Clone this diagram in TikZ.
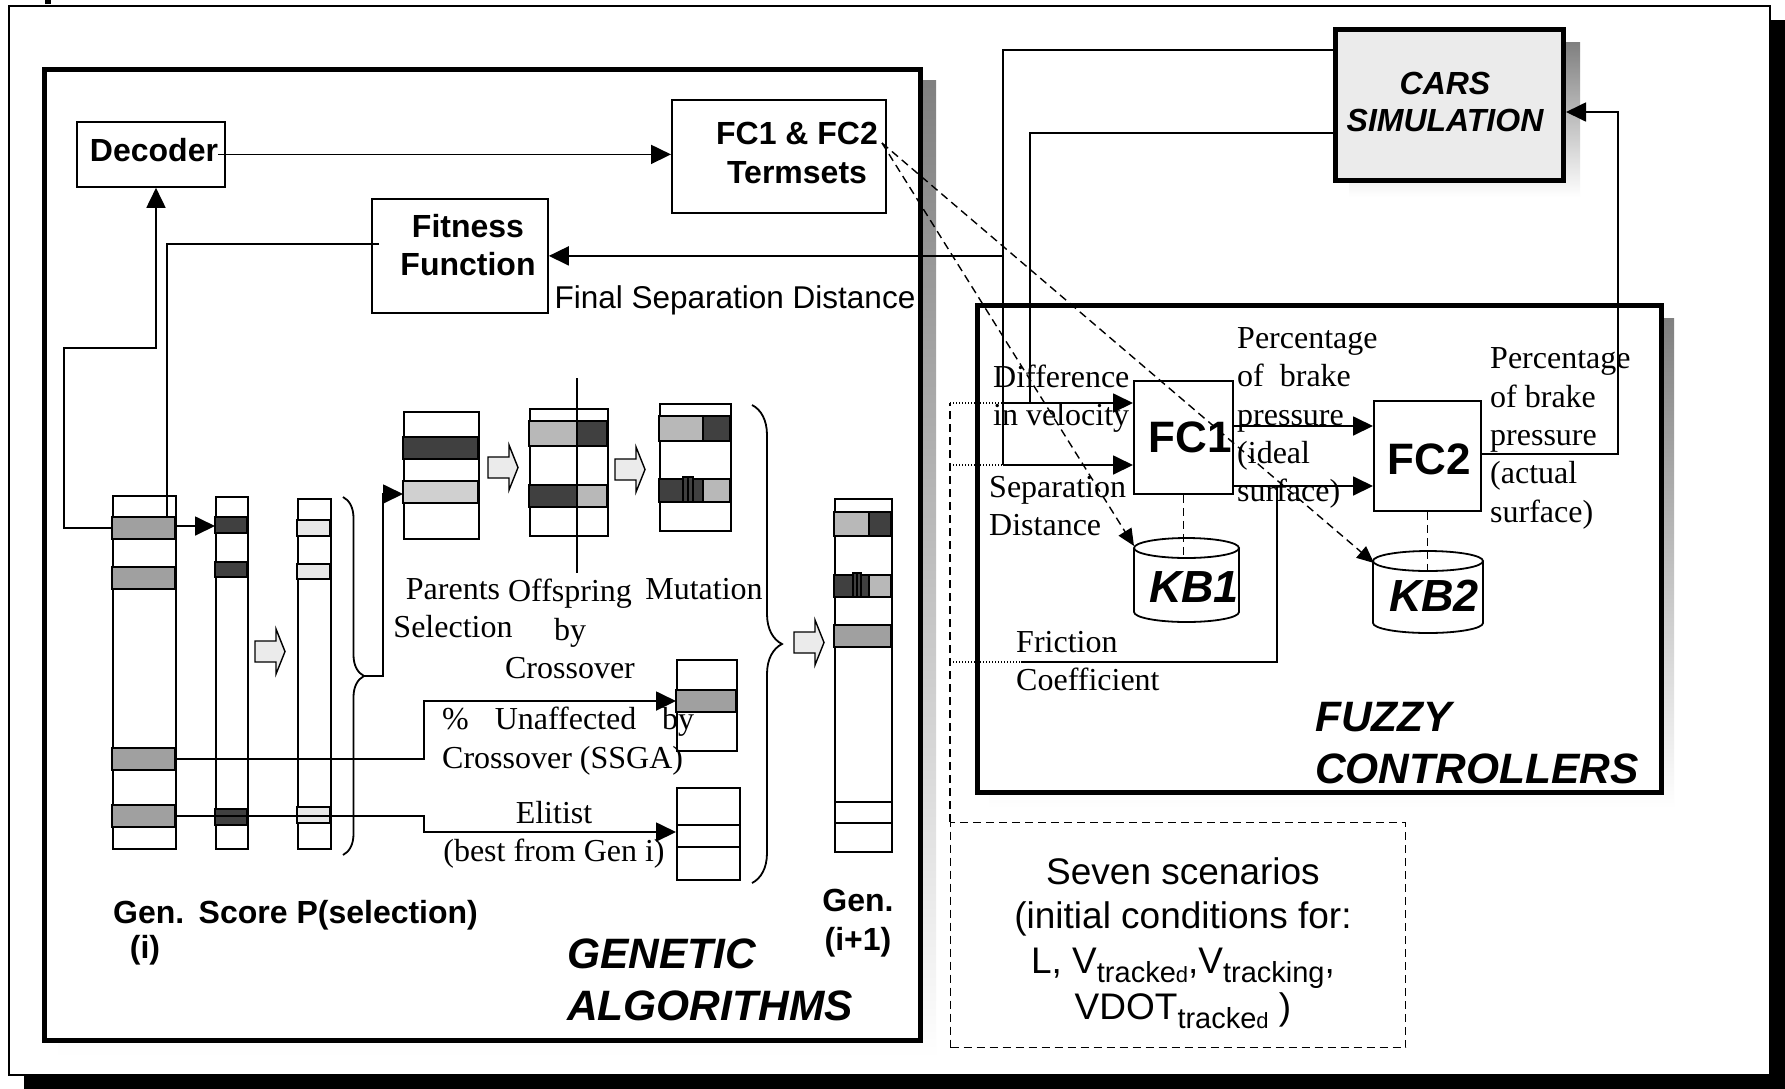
\documentclass[tikz,border=0pt]{standalone}
\usepackage{fontspec}
\setmainfont{Liberation Serif}
\setsansfont{Liberation Sans}
\usepackage{tikz}
\usetikzlibrary{arrows.meta,decorations.pathreplacing}

\definecolor{shade}{HTML}{808080}
\definecolor{simfill}{HTML}{EBEBEB}
\definecolor{genegray}{HTML}{A0A0A0}
\definecolor{genedark}{HTML}{404040}
\definecolor{genelight}{HTML}{B8B8B8}
\definecolor{genepale}{HTML}{D0D0D0}
\definecolor{genefaint}{HTML}{E8E8E8}

\newcommand{\lowtxt}[1]{\raisebox{-9pt}{\fontsize{29}{29}\selectfont #1}}
\newcommand{\tinyd}{{\fontsize{22}{22}\selectfont d}}

\begin{document}
\begin{tikzpicture}[x=1pt,y=-1pt,
  conn/.style={line width=1.8pt},
  arr/.style={-{Triangle[length=20pt,width=19pt]}},
  dashline/.style={line width=1.4pt,dash pattern=on 8pt off 5pt},
  dotline/.style={line width=1.2pt,dash pattern=on 1.2pt off 1.8pt},
  dasharr/.style={dashline,-{Triangle[length=17pt,width=15pt]}},
  box/.style={draw,line width=1.8pt,inner sep=0pt,anchor=north west,fill=white},
  bigframe/.style={draw,line width=5pt,inner sep=0pt,anchor=north west,fill=white},
  gene/.style={draw,line width=1.8pt},
  fatarrow/.style={draw,line width=1.4pt,fill=simfill},
  bf/.style={font=\sffamily\bfseries\fontsize{32}{38}\selectfont,align=center,inner sep=0pt},
  title/.style={font=\sffamily\bfseries\itshape\fontsize{42.5}{52}\selectfont,align=left,inner sep=0pt,anchor=west},
  note/.style={font=\fontsize{32}{38.3}\selectfont,align=left,inner sep=0pt,anchor=west}]

\useasboundingbox (0,0) rectangle (1785,1088);
% outer frame with its black shadow
\fill (24,20) rectangle (1800,1100);
\node[draw,line width=2pt,fill=white,inner sep=0pt,anchor=north west,
  minimum width=1761pt,minimum height=1069pt] (page) at (8,5) {};
\fill (45,0) rectangle (51,4);

% shadows and the three big blocks
\fill[shade] (58,80) rectangle (936,1058);
\fill[shade] (989,318) rectangle (1674,808);
\fill[shade] (1349,42) rectangle (1580,197);
\node[bigframe,minimum width=876pt,minimum height=971pt] (ga) at (42,67) {};
\node[bigframe,minimum width=684pt,minimum height=487pt] (fz) at (975,303) {};
\node[bigframe,fill=simfill,minimum width=228pt,minimum height=151pt] (cars) at (1333,27) {};

% plain boxes
\node[box,minimum width=148pt,minimum height=65pt] (decoder) at (76,121) {};
\node[box,minimum width=214pt,minimum height=113pt] (termsets) at (671,99) {};
\node[box,minimum width=176pt,minimum height=114pt] (fitness) at (371,198) {};
\node[box,minimum width=99pt,minimum height=113pt] (fc1) at (1133,380) {};
\node[box,minimum width=107pt,minimum height=110pt] (fc2) at (1373,400) {};
\node[draw,dashline,inner sep=0pt,anchor=north west,
  minimum width=455pt,minimum height=225pt] (scen) at (950,822) {};

% chromosomes
\node[box,minimum width=63pt,minimum height=353pt] (geni) at (112,495) {};
\node[box,minimum width=32pt,minimum height=352pt] (score) at (215,496) {};
\node[box,minimum width=33pt,minimum height=350pt] (psel) at (297,498) {};
\node[box,minimum width=75pt,minimum height=127pt] (parents) at (403,411) {};
\node[box,minimum width=78pt,minimum height=127pt] (offspring) at (529,408) {};
\node[box,minimum width=71pt,minimum height=127pt] (mutation) at (659,403) {};
\node[box,minimum width=60pt,minimum height=91pt] (unaff) at (676,659) {};
\node[box,minimum width=63pt,minimum height=92pt] (elitist) at (676,787) {};
\node[box,minimum width=57pt,minimum height=353pt] (gennext) at (834,498) {};

% genes
\foreach \xa/\ya/\xb/\yb/\c in {
  112/517/175/539/genegray, 112/567/175/589/genegray,
  112/748/175/770/genegray, 112/805/175/827/genegray,
  215/517/247/533/genedark, 215/562/247/577/genedark, 215/809/247/825/genedark,
  297/520/330/536/genefaint, 297/564/330/579/genefaint, 297/807/330/823/genefaint,
  403/437/478/459/genedark, 403/481/478/503/genepale,
  529/421/577/446/genelight, 577/421/607/446/genedark,
  529/485/577/507/genedark, 577/485/607/507/genelight,
  659/416/703/441/genelight, 703/416/730/441/genedark,
  659/479/703/502/genedark, 703/479/730/502/genelight,
  683/477/693/502/genedark,
  834/512/869/536/genelight, 869/512/891/536/genedark,
  834/575/869/597/genedark, 869/575/891/597/genelight,
  853/573/861/597/genedark,
  834/625/891/647/genegray,
  676/690/736/712/genegray}
  \draw[gene,fill=\c] (\xa,\ya) rectangle (\xb,\yb);
\draw[gene] (688,477) -- (688,502);
\draw[gene] (857,573) -- (857,597);
\draw[gene] (gennext.west |- 0,802) -- (gennext.east |- 0,802);
\draw[gene] (gennext.west |- 0,823) -- (gennext.east |- 0,823);
\draw[gene] (elitist.west |- 0,825) -- (elitist.east |- 0,825);
\draw[gene] (elitist.west |- 0,847) -- (elitist.east |- 0,847);

% fat arrows between the stages
\foreach \ax/\ay in {255/629, 488/445, 615/447, 794/620}
  \draw[fatarrow] (\ax,\ay) ++(0,12) -- ++(21,0) -- ++(0,-12) -- ++(9,22.5)
    -- ++(-9,22.5) -- ++(0,-12) -- ++(-21,0) -- cycle;

% braces
\draw[conn,decorate,decoration={brace,amplitude=21pt}] (343,497) -- (343,855);
\coordinate (sel) at (364,676);
\draw[conn,decorate,decoration={brace,amplitude=30pt}] (752,405) -- (752,883);

% knowledge bases
\foreach \n/\cx/\rx/\ty/\by in {1/1186.5/52.5/548/612, 2/1428/55/561/623} {
  \draw[conn,fill=white] (\cx-\rx,\ty) -- (\cx-\rx,\by)
    arc[start angle=180,end angle=0,x radius=\rx,y radius=10] -- (\cx+\rx,\ty);
  \draw[conn] (\cx,\ty) ellipse[x radius=\rx,y radius=10];
}
\coordinate (kb1in) at (1134,546);
\coordinate (kb2in) at (1374,563);

% genetic algorithm connectors
\draw[conn,arr] ([xshift=-8pt]decoder.east) -- (termsets.west |- decoder.east);
\coordinate (fitout) at (379,244);
\draw[conn] (fitout) -| (167,517);
\draw[conn,arr] (geni.west |- 0,528) -| (64,348) -| (decoder.south -| 156,0);
\draw[conn,arr] (geni.east |- 0,526) -- (score.west |- 0,526);
\draw[conn,arr] (sel) -| (383,494) -- (parents.west |- 0,494);
\draw[conn] (577,378) -- (577,573);
\draw[conn,arr] (geni.east |- 0,759) -| (424,701) -- (unaff.west |- 0,701);
\draw[conn,arr] (geni.east |- 0,816) -| (424,832) -- (elitist.west |- 0,832);

% simulation feedback
\draw[conn] (cars.west |- 0,50) -| (1003,465) coordinate (sepin);
\draw[conn,arr] (sepin) -- (fc1.west |- sepin);
\draw[conn,arr] (fitness.east -| sepin) -- (fitness.east);
\draw[conn] (cars.west |- 0,133) -| (1030,403);
\draw[conn,arr] (1003,403) coordinate (velin) -- (fc1.west |- velin);
\draw[conn] (1021,662) coordinate (fricin) -- (1277,662) -- (1277,486);
\draw[conn,arr] (fc1.east |- 0,426) -- (fc2.west |- 0,426);
\draw[conn,arr] (fc1.east |- 0,486) -- (fc2.west |- 0,486);
\draw[conn,arr] (fc2.east |- 0,454) -- (1618,454) |- (cars.east |- 0,112);

% scenario inputs
\draw[dashline] (scen.north west) -- (scen.north west |- velin);
\draw[dotline] (scen.north west |- velin) -- (velin);
\draw[dotline] (scen.north west |- sepin) -- (sepin);
\draw[dotline] (scen.north west |- fricin) -- (fricin);

% termsets to knowledge bases
\coordinate (tsout) at (882,143);
\draw[dasharr] (tsout) -- (kb1in);
\draw[dasharr] (tsout) -- (kb2in);
\draw[dashline] (fc1.south) -- ++(0,63);
\draw[dashline] (fc2.south) -- ++(0,62);

% texts
\node[bf] (dectxt) at (154,150) {Decoder};
\node[bf,font=\sffamily\bfseries\fontsize{32}{39}\selectfont] (tstxt) at (797,152.5) {FC1 \& FC2\\Termsets};
\node[bf] (fittxt) at (468,245) {Fitness\\Function};
\node[font=\sffamily\fontsize{31.5}{36}\selectfont,inner sep=0pt] (fsd) at (735,300) {Final Separation Distance};
\node[note,align=center,anchor=center] (partxt) at (453,608) {Parents\\Selection};
\node[note,align=center,anchor=center] (offtxt) at (570,629) {Offspring\\by\\Crossover};
\node[note,anchor=center] (muttxt) at (704,589) {Mutation};
\node[note] (unafftxt) at (442,741) {\makebox[252pt][s]{\% Unaffected by}\\Crossover (SSGA)};
\node[note,align=center,anchor=center] (elitxt) at (554,835) {Elitist\\(best from Gen i)};
\node[bf,anchor=west] (gentxt) at (113,915) {Gen.\hspace{0.45em}Score P(selection)};
\node[bf] (itxt) at (145,950) {(i)};
\node[bf,font=\sffamily\bfseries\fontsize{32}{39}\selectfont] (nexttxt) at (858,923.5) {Gen.\\(i+1)};
\node[title] (gatxt) at (567,980) {GENETIC\\ALGORITHMS};
\node[font=\sffamily\bfseries\itshape\fontsize{32}{37}\selectfont,align=center,inner sep=0pt]
  (carstxt) at (1445,101.5) {CARS\\SIMULATION};
\node[font=\sffamily\bfseries\fontsize{44}{44}\selectfont,inner sep=0pt] (fc1txt) at (1190,437) {FC1};
\node[font=\sffamily\bfseries\fontsize{44}{44}\selectfont,inner sep=0pt] (fc2txt) at (1429,459) {FC2};
\node[font=\sffamily\bfseries\itshape\fontsize{45}{45}\selectfont,inner sep=0pt] (kb1txt) at (1194,587) {KB1};
\node[font=\sffamily\bfseries\itshape\fontsize{45}{45}\selectfont,inner sep=0pt] (kb2txt) at (1434,596) {KB2};
\node[note] (dvtxt) at (993,398.5) {Difference\\in velocity};
\node[note] (sdtxt) at (989,506) {Separation\\Distance};
\node[note] (p1txt) at (1237,418) {Percentage\\of\ \ brake\\pressure\\(ideal\\surface)};
\node[note] (p2txt) at (1490,438.5) {Percentage\\of brake\\pressure\\(actual\\surface)};
\node[note] (frtxt) at (1016,661) {Friction\\Coefficient};
\node[title] (fztxt) at (1315,743) {FUZZY\\CONTROLLERS};
\node[font=\sffamily\fontsize{37}{44}\selectfont,align=center,inner sep=0pt] (scentxt) at (1183,943)
  {Seven scenarios\\(initial conditions for:\\[1pt]
   L, V\lowtxt{tracke\tinyd},V\lowtxt{tracking},\\[2pt]
   VDOT\lowtxt{tracke\tinyd} )};
\end{tikzpicture}
\end{document}
